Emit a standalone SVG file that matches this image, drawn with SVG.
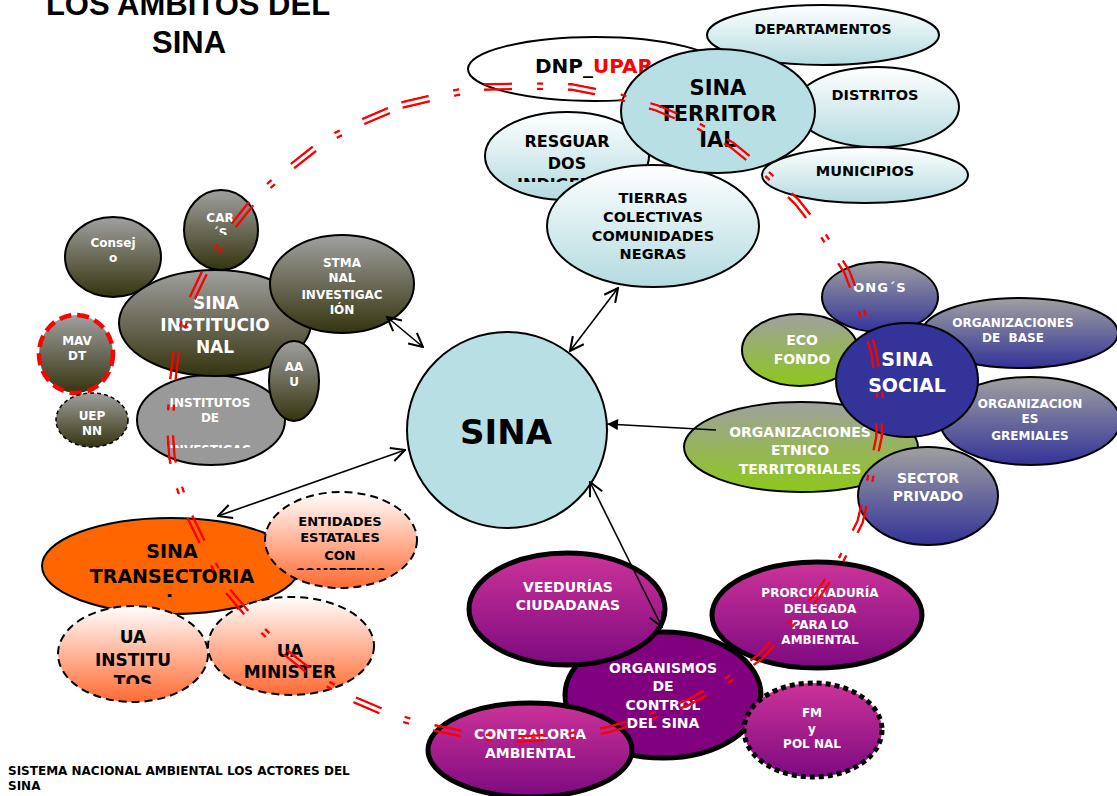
<svg xmlns="http://www.w3.org/2000/svg" xmlns:xlink="http://www.w3.org/1999/xlink" width="1117" height="796" viewBox="0 0 1117 796">
<style>
text{font-family:"DejaVu Sans",Verdana,sans-serif;font-weight:bold;text-anchor:middle}
.w{fill:#fff}.k{fill:#000}
.n{stroke:#000;stroke-width:2}
.p{stroke:#000;stroke-width:5}
.dsh{stroke:#000;stroke-width:2;stroke-dasharray:8 5}
.ttl{font-family:"Liberation Sans",Arial,sans-serif;font-size:31px}
.conn line{stroke:#000;stroke-width:1.6}
</style>
<defs>
<linearGradient id="gGray" x1="0" y1="0" x2="0" y2="1"><stop offset="0" stop-color="#a0a0a0"/><stop offset="1" stop-color="#35340f"/></linearGradient>
<linearGradient id="gTeal" x1="0" y1="0" x2="0" y2="1"><stop offset="0" stop-color="#ffffff"/><stop offset="1" stop-color="#b3dbe0"/></linearGradient>
<linearGradient id="gBlue" x1="0" y1="0" x2="0" y2="1"><stop offset="0" stop-color="#a0a0a0"/><stop offset="1" stop-color="#333399"/></linearGradient>
<linearGradient id="gGreen" x1="0" y1="0" x2="0" y2="1"><stop offset="0" stop-color="#a0a0a0"/><stop offset="1" stop-color="#8dc81a"/></linearGradient>
<linearGradient id="gOrange" x1="0" y1="0" x2="0" y2="1"><stop offset="0" stop-color="#ffffff"/><stop offset="1" stop-color="#ff6a33"/></linearGradient>
<linearGradient id="gPurple" x1="0" y1="0" x2="0" y2="1"><stop offset="0" stop-color="#cc3399"/><stop offset="1" stop-color="#7d0a80"/></linearGradient>
<marker id="ah" viewBox="0 0 14 14" refX="13" refY="7" markerWidth="16" markerHeight="16" markerUnits="userSpaceOnUse" orient="auto-start-reverse"><path d="M1,1 L13,7 L1,13" fill="none" stroke="#000" stroke-width="1.8"/></marker>
<marker id="as" viewBox="0 0 10 10" refX="10" refY="5" markerWidth="12" markerHeight="11" markerUnits="userSpaceOnUse" orient="auto"><path d="M0,0 L10,5 L0,10 Z" fill="#000"/></marker>
<clipPath id="cCar" clipPathUnits="userSpaceOnUse"><rect x="180" y="190" width="80" height="45"/></clipPath>
<clipPath id="cInst" clipPathUnits="userSpaceOnUse"><rect x="130" y="380" width="160" height="68"/></clipPath>
<clipPath id="cResg" clipPathUnits="userSpaceOnUse"><rect x="480" y="110" width="180" height="72"/></clipPath>
<clipPath id="cEnt" clipPathUnits="userSpaceOnUse"><rect x="260" y="490" width="160" height="80"/></clipPath>
<clipPath id="cTrans" clipPathUnits="userSpaceOnUse"><rect x="40" y="515" width="270" height="82"/></clipPath>
<clipPath id="cUAI" clipPathUnits="userSpaceOnUse"><rect x="55" y="605" width="160" height="79"/></clipPath>
<path id="loop" fill="none" d="M402,105 L440,96 L483,87 L528,86 L572,87 L613,95 L657,108 L693,123 L732,145 L765,172 L797,202 L823,235 L847,272 L862,312 L874,353 L880,397 L879,437 L870,480 L860,522 L842,558 L818,595 L788,627 L760,657 L725,682 L687,703 L647,718 L607,730 L563,737 L520,739 L478,737 L435,728 L395,717 L355,700 L318,678 L285,652 L255,623 L227,590 L207,552 L188,513 L178,483 L172,458 L170,430 L172,387 L177,345 L190,303 L208,265 L230,230 L258,195 L290,168 L323,142 L362,122 Z"/>
<mask id="dbl" maskUnits="userSpaceOnUse" x="0" y="0" width="1117" height="796">
<use xlink:href="#loop" stroke="#fff" stroke-width="8"/>
<use xlink:href="#loop" stroke="#000" stroke-width="3"/>
</mask>
</defs>

<g id="title">
<text class="ttl k" x="188" y="15">LOS AMBITOS DEL</text>
<text class="ttl k" x="189" y="53">SINA</text>
</g>
<g id="footer">
<text class="k" x="8" y="775" font-size="12" style="text-anchor:start">SISTEMA NACIONAL AMBIENTAL LOS ACTORES DEL</text>
<text class="k" x="8" y="790" font-size="12" style="text-anchor:start">SINA</text>
</g>

<!-- left cluster -->
<g id="consejo"><ellipse class="n" cx="113" cy="257" rx="48" ry="40" fill="url(#gGray)"/>
<text class="w" font-size="12"><tspan x="113" y="247">Consej</tspan><tspan x="113" y="262">o</tspan></text></g>
<g id="cars"><ellipse class="n" cx="221" cy="230" rx="37" ry="40" fill="url(#gGray)"/>
<text class="w" font-size="12" clip-path="url(#cCar)"><tspan x="220" y="222">CAR</tspan><tspan x="220" y="237">´S</tspan></text></g>
<g id="mavdt"><ellipse cx="76" cy="354" rx="37" ry="39" fill="url(#gGray)" stroke="#ff0000" stroke-width="4.5" stroke-dasharray="12 6"/>
<text class="w" font-size="12"><tspan x="77" y="345">MAV</tspan><tspan x="77" y="360">DT</tspan></text></g>
<g id="uepnn"><ellipse cx="92" cy="420" rx="36" ry="27" fill="url(#gGray)" stroke="#000" stroke-width="1.5" stroke-dasharray="4 3"/>
<text class="w" font-size="12"><tspan x="92" y="420">UEP</tspan><tspan x="92" y="435">NN</tspan></text></g>
<g id="institutos"><ellipse class="n" cx="211" cy="420" rx="74" ry="45" fill="#999999"/>
<text class="w" font-size="12" clip-path="url(#cInst)"><tspan x="210" y="407">INSTITUTOS</tspan><tspan x="210" y="422">DE</tspan><tspan x="210" y="454">INVESTIGAC</tspan></text></g>
<g id="sina-institucional"><ellipse class="n" cx="215" cy="323" rx="96" ry="53" fill="url(#gGray)"/>
<text class="w" font-size="17"><tspan x="216" y="309">SINA</tspan><tspan x="215" y="331">INSTITUCIO</tspan><tspan x="215" y="353">NAL</tspan></text></g>
<g id="stma"><ellipse class="n" cx="342" cy="284" rx="72" ry="49" fill="url(#gGray)"/>
<text class="w" font-size="12"><tspan x="342" y="267">STMA</tspan><tspan x="342" y="282">NAL</tspan><tspan x="342" y="299">INVESTIGAC</tspan><tspan x="342" y="314">IÓN</tspan></text></g>
<g id="aau"><ellipse class="n" cx="294" cy="381" rx="25" ry="40" fill="url(#gGray)"/>
<text class="w" font-size="12"><tspan x="294" y="371">AA</tspan><tspan x="294" y="386">U</tspan></text></g>

<!-- top cluster -->
<g id="dnp-upar"><ellipse class="n" cx="595" cy="69" rx="127" ry="32" fill="#ffffff"/>
<text class="k" x="535" y="73" font-size="20" style="text-anchor:start">DNP_<tspan fill="#ff0000">UPAR</tspan></text></g>
<g id="resguardos"><ellipse class="n" cx="567" cy="156" rx="82" ry="44" fill="url(#gTeal)"/>
<text class="k" font-size="16" clip-path="url(#cResg)"><tspan x="567" y="147">RESGUAR</tspan><tspan x="567" y="169">DOS</tspan><tspan x="567" y="190">INDIGENAS</tspan></text></g>
<g id="departamentos"><ellipse class="n" cx="823" cy="35" rx="116" ry="30" fill="url(#gTeal)"/>
<text class="k" x="823" y="34" font-size="14">DEPARTAMENTOS</text></g>
<g id="distritos"><ellipse class="n" cx="877" cy="107" rx="82" ry="40" fill="url(#gTeal)"/>
<text class="k" x="875" y="100" font-size="14.5">DISTRITOS</text></g>
<g id="municipios"><ellipse class="n" cx="865" cy="175" rx="103" ry="28" fill="url(#gTeal)"/>
<text class="k" x="865" y="176" font-size="14.5">MUNICIPIOS</text></g>
<g id="tierras"><ellipse class="n" cx="653" cy="226" rx="106" ry="61" fill="url(#gTeal)"/>
<text class="k" font-size="14.5"><tspan x="653" y="203">TIERRAS</tspan><tspan x="653" y="222">COLECTIVAS</tspan><tspan x="653" y="241">COMUNIDADES</tspan><tspan x="653" y="259">NEGRAS</tspan></text></g>
<g id="sina-territorial"><ellipse class="n" cx="718" cy="111" rx="97" ry="62" fill="#b8dfe3"/>
<text class="k" font-size="21"><tspan x="718" y="95">SINA</tspan><tspan x="718" y="121">TERRITOR</tspan><tspan x="718" y="147">IAL</tspan></text></g>

<!-- centre -->
<g id="sina"><ellipse class="n" cx="507" cy="430" rx="100" ry="98" fill="#b8dfe3"/>
<text class="k" x="506" y="444" font-size="34">SINA</text></g>

<!-- right cluster -->
<g id="org-base"><ellipse class="n" cx="1020" cy="333" rx="98" ry="35" fill="url(#gBlue)"/>
<text class="w" font-size="12"><tspan x="1013" y="327">ORGANIZACIONES</tspan><tspan x="1013" y="342">DE&#160; BASE</tspan></text></g>
<g id="ongs"><ellipse class="n" cx="880" cy="297" rx="58" ry="35" fill="url(#gBlue)"/>
<text class="w" x="880" y="292" font-size="13" letter-spacing="1">ONG´S</text></g>
<g id="org-gremiales"><ellipse class="n" cx="1030" cy="421" rx="90" ry="44" fill="url(#gBlue)"/>
<text class="w" font-size="12"><tspan x="1030" y="408">ORGANIZACION</tspan><tspan x="1030" y="423">ES</tspan><tspan x="1030" y="440">GREMIALES</tspan></text></g>
<g id="ecofondo"><ellipse class="n" cx="800" cy="350" rx="58" ry="36" fill="url(#gGreen)"/>
<text class="w" font-size="14"><tspan x="802" y="345">ECO</tspan><tspan x="802" y="364">FONDO</tspan></text></g>
<g id="org-etnico"><ellipse class="n" cx="801" cy="447" rx="117" ry="45" fill="url(#gGreen)"/>
<text class="w" font-size="14"><tspan x="800" y="437">ORGANIZACIONES</tspan><tspan x="800" y="455">ETNICO</tspan><tspan x="800" y="474">TERRITORIALES</tspan></text></g>
<g id="sina-social"><ellipse class="n" cx="907" cy="380" rx="71" ry="57" fill="#333399"/>
<text class="w" font-size="19"><tspan x="907" y="366">SINA</tspan><tspan x="907" y="392">SOCIAL</tspan></text></g>
<g id="sector-privado"><ellipse class="n" cx="928" cy="496" rx="70" ry="49" fill="url(#gBlue)"/>
<text class="w" font-size="14"><tspan x="928" y="483">SECTOR</tspan><tspan x="928" y="501">PRIVADO</tspan></text></g>

<!-- bottom-left cluster -->
<g id="sina-transectorial"><ellipse class="n" cx="171" cy="566" rx="129" ry="48" fill="#ff6600"/>
<text class="k" font-size="19" clip-path="url(#cTrans)"><tspan x="172" y="558">SINA</tspan><tspan x="172" y="583">TRANSECTORIA</tspan><tspan x="172" y="608">L</tspan></text></g>
<g id="entidades"><ellipse class="dsh" cx="341" cy="540" rx="76" ry="48" fill="url(#gOrange)"/>
<text class="k" font-size="13" clip-path="url(#cEnt)"><tspan x="340" y="526">ENTIDADES</tspan><tspan x="340" y="542">ESTATALES</tspan><tspan x="340" y="560">CON</tspan><tspan x="340" y="577">COMPETENC</tspan></text></g>
<g id="ua-institutos"><ellipse class="dsh" cx="133" cy="654" rx="75" ry="48" fill="url(#gOrange)"/>
<text class="k" font-size="17" clip-path="url(#cUAI)"><tspan x="133" y="643">UA</tspan><tspan x="133" y="666">INSTITU</tspan><tspan x="133" y="688">TOS</tspan></text></g>
<g id="ua-minister"><ellipse class="dsh" cx="291" cy="646" rx="83" ry="49" fill="url(#gOrange)"/>
<text class="k" font-size="17"><tspan x="290" y="657">UA</tspan><tspan x="290" y="678">MINISTER</tspan></text></g>

<!-- bottom cluster -->
<g id="organismos"><ellipse class="p" cx="663" cy="695" rx="98" ry="63" fill="#800080"/>
<text class="w" font-size="14"><tspan x="663" y="673">ORGANISMOS</tspan><tspan x="663" y="691">DE</tspan><tspan x="663" y="710">CONTROL</tspan><tspan x="663" y="728">DEL SINA</tspan></text></g>
<g id="veedurias"><ellipse class="p" cx="567" cy="609" rx="98" ry="56" fill="url(#gPurple)"/>
<text class="w" font-size="14"><tspan x="568" y="592">VEEDURÍAS</tspan><tspan x="568" y="610">CIUDADANAS</tspan></text></g>
<g id="contraloria"><ellipse class="p" cx="530" cy="750" rx="102" ry="47" fill="url(#gPurple)"/>
<text class="w" font-size="14"><tspan x="530" y="739">CONTRALORIA</tspan><tspan x="530" y="758">AMBIENTAL</tspan></text></g>
<g id="procuraduria"><ellipse class="p" cx="817" cy="615" rx="105" ry="53" fill="url(#gPurple)"/>
<text class="w" font-size="12"><tspan x="820" y="597">PRORCURADURÍA</tspan><tspan x="820" y="613">DELEGADA</tspan><tspan x="820" y="629">PARA LO</tspan><tspan x="820" y="644">AMBIENTAL</tspan></text></g>
<g id="fm-polnal"><ellipse cx="813" cy="730" rx="69" ry="47" fill="url(#gPurple)" stroke="#000" stroke-width="5" stroke-dasharray="5 4"/>
<text class="w" font-size="12"><tspan x="812" y="717">FM</tspan><tspan x="812" y="733">y</tspan><tspan x="812" y="748">POL NAL</tspan></text></g>

<g id="connectors" class="conn">
<line x1="387" y1="317" x2="423" y2="347" marker-start="url(#ah)" marker-end="url(#ah)"/>
<line x1="570" y1="351" x2="618" y2="288" marker-start="url(#ah)" marker-end="url(#ah)"/>
<line x1="716" y1="430" x2="607" y2="424" marker-end="url(#as)"/>
<line x1="405" y1="450" x2="218" y2="516" marker-start="url(#ah)" marker-end="url(#ah)"/>
<line x1="662" y1="627" x2="590" y2="482" marker-start="url(#ah)" marker-end="url(#ah)"/>
</g>

<g id="red-loop">
<use xlink:href="#loop" stroke="#ff0000" stroke-width="8" stroke-dasharray="28 25 6 25" mask="url(#dbl)"/>
</g>
</svg>
